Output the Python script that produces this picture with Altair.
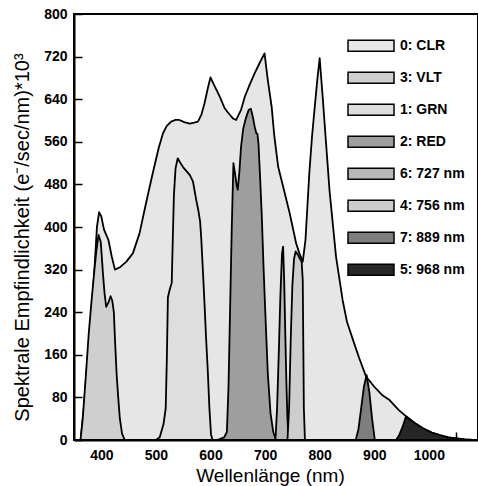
import altair as alt
import pandas as pd

# ---- legend / series ----
series_names = ["0: CLR", "3: VLT", "1: GRN", "2: RED", "6: 727 nm", "4: 756 nm", "7: 889 nm", "5: 968 nm"]
series_colors = ["#e6e6e6", "#cfcfcf", "#dedede", "#9e9e9e", "#b8b8b8", "#cdcdcd", "#7e7e7e", "#262626"]

x_title = "Wellenlänge (nm)"
y_title = "Spektrale Empfindlichkeit (e⁻/sec/nm)*10³"

# ---- curves (nm, response *10^3) ----
clr_nm = [362, 368, 375, 380, 385, 388, 392, 396, 400, 405, 413, 419, 425, 435, 446, 458, 470, 482, 494,
          505, 513, 520, 528, 536, 543, 552, 562, 570, 577, 583, 589, 595, 600, 606, 617, 626, 632, 641,
          647, 656, 663, 672, 681, 690, 699, 705, 712, 717, 724, 733, 745, 757, 763, 769, 774, 781, 786,
          791, 796, 800, 806, 809, 818, 830, 842, 850, 861, 872, 885, 900, 915, 928, 945, 959, 974, 989,
          1005, 1020, 1035, 1050, 1065, 1080, 1090]
clr_val = [0, 60, 156, 220, 282, 330, 400, 428, 420, 395, 376, 345, 320, 325, 335, 351, 388, 445, 500,
           548, 576, 590, 598, 601, 601, 597, 594, 596, 598, 610, 632, 660, 681, 668, 645, 623, 615, 604,
           601, 620, 645, 668, 689, 708, 726, 676, 626, 570, 513, 476, 426, 369, 350, 335, 376, 501, 570,
           626, 680, 717, 638, 595, 469, 344, 263, 222, 188, 155, 119, 100, 84, 75, 56, 44, 32, 22,
           14, 9, 5, 3, 1, 0, 0]

vlt_nm = [362, 366, 372, 377, 382, 387, 391, 395, 399, 403, 406, 409, 413, 417, 420, 423, 425, 428, 431,
          434, 438, 443]
vlt_val = [0, 40, 125, 200, 260, 315, 355, 385, 372, 313, 275, 250, 258, 270, 262, 240, 190, 125, 80,
           40, 12, 0]

grn_nm = [500, 507, 514, 518, 520, 522, 526, 529, 531, 533, 536, 540, 545, 550, 556, 562, 568, 574, 578,
          581, 583, 586, 589, 592, 595, 598, 601, 604]
grn_val = [0, 5, 30, 60, 150, 268, 285, 295, 380, 460, 510, 529, 520, 512, 505, 498, 485, 450, 430,
           410, 380, 320, 257, 190, 131, 60, 10, 0]

red_nm = [612, 625, 630, 633, 636, 639, 642, 645, 648, 650, 653, 656, 660, 665, 670, 674, 678, 681, 684,
          686, 688, 691, 694, 697, 700, 705, 710, 715, 720]
red_val = [0, 5, 15, 100, 250, 400, 520, 500, 478, 470, 505, 551, 585, 605, 620, 622, 605, 588, 576,
           575, 555, 490, 420, 330, 250, 125, 50, 15, 0]

n727_nm = [719, 722, 725, 728, 731, 733, 735, 737, 739, 741, 743]
n727_val = [0, 60, 160, 270, 350, 363, 300, 200, 110, 40, 0]

n756_nm = [741, 744, 747, 750, 753, 756, 760, 764, 767, 769, 771, 773]
n756_val = [0, 60, 190, 290, 340, 354, 348, 340, 335, 300, 60, 0]

n889_nm = [866, 871, 876, 881, 886, 891, 896, 901]
n889_val = [0, 20, 60, 100, 122, 90, 40, 0]

n968_nm = [940, 946, 952, 958, 965, 974, 989, 1005, 1020, 1035, 1050, 1065, 1080]
n968_val = [0, 10, 25, 44, 38, 32, 22, 14, 9, 5, 3, 1, 0]

# ---- axis ticks ----
x_domain = [350, 1090]
y_domain = [0, 800]
x_ticks = [400, 450, 500, 550, 600, 650, 700, 750, 800, 850, 900, 950, 1000, 1050]
y_ticks = [0, 80, 160, 240, 320, 400, 480, 560, 640, 720, 800]

W, H = 404, 426
FONT = "Liberation Sans"

curves = [(clr_nm, clr_val), (vlt_nm, vlt_val), (grn_nm, grn_val), (red_nm, red_val),
          (n727_nm, n727_val), (n756_nm, n756_val), (n889_nm, n889_val), (n968_nm, n968_val)]

xscale = alt.Scale(domain=x_domain, nice=False, zero=False)
yscale = alt.Scale(domain=y_domain, nice=False)

# inward ticks: negative tick size given as an expression
xaxis = alt.Axis(values=x_ticks, format="d", labelExpr="datum.value % 100 === 0 ? datum.label : ''",
                 ticks=True, tickSize={"expr": "-8"}, tickWidth=1.5, tickColor="black", grid=False,
                 labelFont=FONT, labelFontWeight="bold", labelFontSize=14, labelColor="black",
                 labelPadding=16, labelFlush=False, labelOverlap=False, domainColor="black", domainWidth=2,
                 title=x_title, titleFont=FONT, titleFontSize=19, titleFontWeight="normal",
                 titleColor="black", titleX=196, titleY=41, titleBaseline="alphabetic", titleAlign="center")
yaxis = alt.Axis(values=y_ticks, format="d",
                 ticks=True, tickSize={"expr": "-8"}, tickWidth=1.5, tickColor="black", grid=False,
                 labelFont=FONT, labelFontWeight="bold", labelFontSize=14, labelColor="black",
                 labelPadding=15, labelFlush=False, labelOverlap=False, domainColor="black", domainWidth=2,
                 title=y_title, titleFont=FONT, titleFontSize=20,
                 titleFontWeight="normal", titleColor="black", titleAngle=270, titleX=-46, titleY=223,
                 titleBaseline="alphabetic", titleAlign="center")

legend = alt.Legend(title=None, orient="none", legendX=273, legendY=16,
                    symbolType="M-1,-0.24H1V0.24H-1Z", symbolSize=2116, symbolStrokeColor="black",
                    symbolStrokeWidth=1.5, symbolOpacity=1, clipHeight=31.4, rowPadding=0,
                    labelFont=FONT, labelFontSize=14, labelFontWeight="bold", labelColor="black",
                    labelOffset=5, padding=0)

color = alt.Color("series:N", scale=alt.Scale(domain=series_names, range=series_colors), legend=legend)

layers = []
for name, (nm, val) in zip(series_names, curves):
    df = pd.DataFrame({"nm": nm, "val": val, "series": name})
    layers.append(
        alt.Chart(df).mark_area(stroke="black", strokeWidth=1.8, strokeJoin="round", opacity=1).encode(
            x=alt.X("nm:Q", scale=xscale, axis=xaxis),
            y=alt.Y("val:Q", scale=yscale, axis=yaxis),
            color=color)
    )

chart = alt.layer(*layers).properties(
    width=W, height=H,
    autosize=alt.AutoSizeParams(type="none"),
    padding={"left": 74, "top": 14, "right": 0, "bottom": 46},
    background="white",
).configure_view(stroke="black", strokeWidth=2)

chart.save("out.html", embed_options={"renderer": "svg", "actions": False})
